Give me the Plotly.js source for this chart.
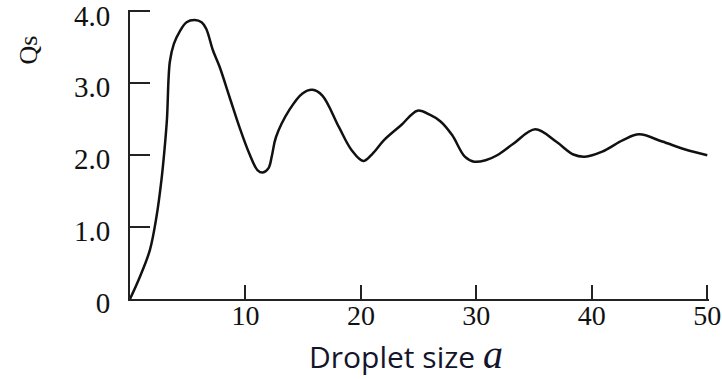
<!DOCTYPE html>
<html>
<head>
<meta charset="utf-8">
<script src="https://cdn.plot.ly/plotly-3.0.1.min.js"></script>
<style>html,body{margin:0;padding:0;background:#fff;}#chart{width:722px;height:379px;}</style>
</head>
<body>
<div id="chart"></div>
<script>
// Droplet size a
const dropletSize = [0, 0.86, 1.72, 2.3, 2.72, 3.0, 3.2, 3.45, 3.8, 4.3, 4.9, 5.6, 6.2, 6.6, 7.18, 7.76, 8.62, 9.48, 10.34, 11.06, 11.5, 12.0, 12.3, 12.64, 13.8, 14.94, 15.8, 16.66, 18.1, 19.2, 20.2, 21.0, 22.0, 23.5, 24.9, 26.0, 26.9, 27.9, 29.0, 29.8, 30.8, 31.8, 33.2, 35.1, 36.9, 38.4, 39.4, 40.9, 42.7, 44.1, 46.1, 48.1, 50];
// Scattering efficiency Qs
const qs = [0, 0.31, 0.68, 1.15, 1.65, 2.1, 2.5, 3.3, 3.55, 3.72, 3.85, 3.88, 3.85, 3.76, 3.46, 3.23, 2.81, 2.39, 2.02, 1.79, 1.76, 1.82, 2.0, 2.25, 2.63, 2.86, 2.91, 2.83, 2.39, 2.07, 1.92, 2.02, 2.21, 2.42, 2.62, 2.56, 2.47, 2.28, 1.98, 1.91, 1.93, 2.0, 2.16, 2.36, 2.19, 2.01, 1.98, 2.05, 2.21, 2.29, 2.19, 2.08, 2.0];
const xTickVals = [10, 20, 30, 40, 50];
const xTickText = ["10", "20", "30", "40", "50"];
const yTickVals = [0, 1, 2, 3, 4];
const yTickText = ["0", "1.0", "2.0", "3.0", "4.0"];

const serif = "Liberation Serif, Times New Roman, serif";

const trace = {
  x: dropletSize,
  y: qs,
  type: "scatter",
  mode: "lines",
  line: {color: "#111", width: 2.5, shape: "spline", smoothing: 1},
  cliponaxis: false,
  hoverinfo: "x+y"
};

const layout = {
  width: 722,
  height: 379,
  margin: {l: 130, r: 12.77, t: 9.56, b: 80},
  paper_bgcolor: "#fff",
  plot_bgcolor: "#fff",
  showlegend: false,
  xaxis: {
    range: [0, 50.15],
    tickmode: "array",
    tickvals: xTickVals,
    ticktext: xTickText,
    ticks: "inside",
    ticklen: 14,
    tickwidth: 2,
    tickcolor: "#222",
    showline: true,
    linecolor: "#222",
    linewidth: 2,
    showgrid: false,
    zeroline: false,
    ticklabeloverflow: "allow",
    ticklabelstandoff: -10,
    tickfont: {family: serif, size: 28, color: "#111"}
  },
  yaxis: {
    range: [0, 4.02],
    tickmode: "array",
    tickvals: yTickVals,
    ticktext: yTickText,
    ticks: "inside",
    ticklen: 20,
    tickwidth: 2,
    tickcolor: "#222",
    showline: true,
    linecolor: "#222",
    linewidth: 2,
    showgrid: false,
    zeroline: false,
    ticklabeloverflow: "allow",
    ticklabelstandoff: 12,
    ticklabelshift: 4,
    tickfont: {family: serif, size: 29, color: "#111"}
  },
  annotations: [{
    text: "Qs",
    xref: "paper", yref: "paper",
    x: -0.1761, y: 0.86,
    xanchor: "center", yanchor: "middle",
    textangle: -90,
    showarrow: false,
    font: {family: serif, size: 26, color: "#111"}
  }, {
    text: 'Droplet size <span style="font-family:Liberation Serif;font-size:40px"><i>a</i></span>',
    xref: "paper", yref: "paper",
    x: 0.4765, y: -0.193,
    xanchor: "center", yanchor: "middle",
    showarrow: false,
    font: {family: "Open Sans, Noto Sans, sans-serif", size: 30, color: "#14142a"}
  }]
};

Plotly.newPlot("chart", [trace], layout, {displayModeBar: false});
</script>
</body>
</html>
